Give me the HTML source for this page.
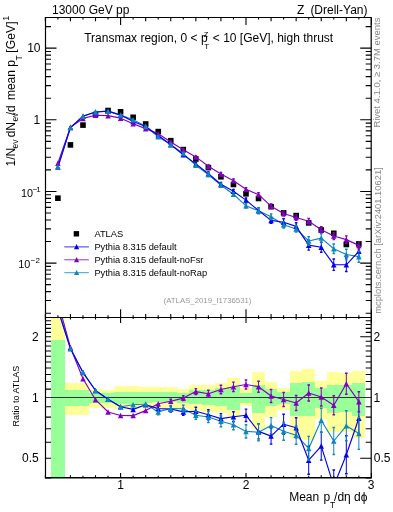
<!DOCTYPE html><html><head><meta charset="utf-8"><style>html,body{margin:0;padding:0;background:#fff;}svg{display:block;will-change:transform;}</style></head><body><svg width="393" height="512" viewBox="0 0 393 512" font-family="Liberation Sans, sans-serif"><rect width="393" height="512" fill="#fff"/><defs><clipPath id="cr"><rect x="45.50" y="317.50" width="325.70" height="160.00"/></clipPath><clipPath id="cu"><rect x="45.50" y="17.50" width="325.70" height="300.00"/></clipPath></defs><path d="M45.36,17.50L45.36,21.20M45.36,317.50L45.36,313.90M45.36,317.50L45.36,319.50M45.36,477.50L45.36,475.20M57.90,17.50L57.90,19.50M57.90,317.50L57.90,315.30M57.90,317.50L57.90,318.90M57.90,477.50L57.90,475.80M70.44,17.50L70.44,21.20M70.44,317.50L70.44,313.90M70.44,317.50L70.44,319.50M70.44,477.50L70.44,475.20M82.98,17.50L82.98,19.50M82.98,317.50L82.98,315.30M82.98,317.50L82.98,318.90M82.98,477.50L82.98,475.80M95.52,17.50L95.52,21.20M95.52,317.50L95.52,313.90M95.52,317.50L95.52,319.50M95.52,477.50L95.52,475.20M108.06,17.50L108.06,19.50M108.06,317.50L108.06,315.30M108.06,317.50L108.06,318.90M108.06,477.50L108.06,475.80M120.60,17.50L120.60,25.00M120.60,317.50L120.60,309.20M120.60,317.50L120.60,322.90M120.60,477.50L120.60,472.90M133.14,17.50L133.14,19.50M133.14,317.50L133.14,315.30M133.14,317.50L133.14,318.90M133.14,477.50L133.14,475.80M145.68,17.50L145.68,21.20M145.68,317.50L145.68,313.90M145.68,317.50L145.68,319.50M145.68,477.50L145.68,475.20M158.22,17.50L158.22,19.50M158.22,317.50L158.22,315.30M158.22,317.50L158.22,318.90M158.22,477.50L158.22,475.80M170.76,17.50L170.76,21.20M170.76,317.50L170.76,313.90M170.76,317.50L170.76,319.50M170.76,477.50L170.76,475.20M183.30,17.50L183.30,19.50M183.30,317.50L183.30,315.30M183.30,317.50L183.30,318.90M183.30,477.50L183.30,475.80M195.84,17.50L195.84,21.20M195.84,317.50L195.84,313.90M195.84,317.50L195.84,319.50M195.84,477.50L195.84,475.20M208.38,17.50L208.38,19.50M208.38,317.50L208.38,315.30M208.38,317.50L208.38,318.90M208.38,477.50L208.38,475.80M220.92,17.50L220.92,21.20M220.92,317.50L220.92,313.90M220.92,317.50L220.92,319.50M220.92,477.50L220.92,475.20M233.46,17.50L233.46,19.50M233.46,317.50L233.46,315.30M233.46,317.50L233.46,318.90M233.46,477.50L233.46,475.80M246.00,17.50L246.00,25.00M246.00,317.50L246.00,309.20M246.00,317.50L246.00,322.90M246.00,477.50L246.00,472.90M258.54,17.50L258.54,19.50M258.54,317.50L258.54,315.30M258.54,317.50L258.54,318.90M258.54,477.50L258.54,475.80M271.08,17.50L271.08,21.20M271.08,317.50L271.08,313.90M271.08,317.50L271.08,319.50M271.08,477.50L271.08,475.20M283.62,17.50L283.62,19.50M283.62,317.50L283.62,315.30M283.62,317.50L283.62,318.90M283.62,477.50L283.62,475.80M296.16,17.50L296.16,21.20M296.16,317.50L296.16,313.90M296.16,317.50L296.16,319.50M296.16,477.50L296.16,475.20M308.70,17.50L308.70,19.50M308.70,317.50L308.70,315.30M308.70,317.50L308.70,318.90M308.70,477.50L308.70,475.80M321.24,17.50L321.24,21.20M321.24,317.50L321.24,313.90M321.24,317.50L321.24,319.50M321.24,477.50L321.24,475.20M333.78,17.50L333.78,19.50M333.78,317.50L333.78,315.30M333.78,317.50L333.78,318.90M333.78,477.50L333.78,475.80M346.32,17.50L346.32,21.20M346.32,317.50L346.32,313.90M346.32,317.50L346.32,319.50M346.32,477.50L346.32,475.20M358.86,17.50L358.86,19.50M358.86,317.50L358.86,315.30M358.86,317.50L358.86,318.90M358.86,477.50L358.86,475.80M371.40,17.50L371.40,25.00M371.40,317.50L371.40,309.20M371.40,317.50L371.40,322.90M371.40,477.50L371.40,472.90M45.50,313.18L51.00,313.18M371.20,313.18L365.70,313.18M45.50,300.56L51.00,300.56M371.20,300.56L365.70,300.56M45.50,291.61L51.00,291.61M371.20,291.61L365.70,291.61M45.50,284.67L51.00,284.67M371.20,284.67L365.70,284.67M45.50,279.00L51.00,279.00M371.20,279.00L365.70,279.00M45.50,274.20L51.00,274.20M371.20,274.20L365.70,274.20M45.50,270.04L51.00,270.04M371.20,270.04L365.70,270.04M45.50,266.38L51.00,266.38M371.20,266.38L365.70,266.38M45.50,263.10L56.50,263.10M371.20,263.10L360.20,263.10M45.50,241.53L51.00,241.53M371.20,241.53L365.70,241.53M45.50,228.91L51.00,228.91M371.20,228.91L365.70,228.91M45.50,219.96L51.00,219.96M371.20,219.96L365.70,219.96M45.50,213.02L51.00,213.02M371.20,213.02L365.70,213.02M45.50,207.35L51.00,207.35M371.20,207.35L365.70,207.35M45.50,202.55L51.00,202.55M371.20,202.55L365.70,202.55M45.50,198.39L51.00,198.39M371.20,198.39L365.70,198.39M45.50,194.73L51.00,194.73M371.20,194.73L365.70,194.73M45.50,191.45L56.50,191.45M371.20,191.45L360.20,191.45M45.50,169.88L51.00,169.88M371.20,169.88L365.70,169.88M45.50,157.26L51.00,157.26M371.20,157.26L365.70,157.26M45.50,148.31L51.00,148.31M371.20,148.31L365.70,148.31M45.50,141.37L51.00,141.37M371.20,141.37L365.70,141.37M45.50,135.70L51.00,135.70M371.20,135.70L365.70,135.70M45.50,130.90L51.00,130.90M371.20,130.90L365.70,130.90M45.50,126.74L51.00,126.74M371.20,126.74L365.70,126.74M45.50,123.08L51.00,123.08M371.20,123.08L365.70,123.08M45.50,119.80L56.50,119.80M371.20,119.80L360.20,119.80M45.50,98.23L51.00,98.23M371.20,98.23L365.70,98.23M45.50,85.61L51.00,85.61M371.20,85.61L365.70,85.61M45.50,76.66L51.00,76.66M371.20,76.66L365.70,76.66M45.50,69.72L51.00,69.72M371.20,69.72L365.70,69.72M45.50,64.05L51.00,64.05M371.20,64.05L365.70,64.05M45.50,59.25L51.00,59.25M371.20,59.25L365.70,59.25M45.50,55.09L51.00,55.09M371.20,55.09L365.70,55.09M45.50,51.43L51.00,51.43M371.20,51.43L365.70,51.43M45.50,48.15L56.50,48.15M371.20,48.15L360.20,48.15M45.50,26.58L51.00,26.58M371.20,26.58L365.70,26.58M45.50,477.88L51.00,477.88M371.20,477.88L365.70,477.88M45.50,458.31L56.50,458.31M371.20,458.31L360.20,458.31M45.50,442.31L51.00,442.31M371.20,442.31L365.70,442.31M45.50,428.79L51.00,428.79M371.20,428.79L365.70,428.79M45.50,417.08L51.00,417.08M371.20,417.08L365.70,417.08M45.50,406.74L51.00,406.74M371.20,406.74L365.70,406.74M45.50,397.50L56.50,397.50M371.20,397.50L360.20,397.50M45.50,389.14L51.00,389.14M371.20,389.14L365.70,389.14M45.50,381.51L51.00,381.51M371.20,381.51L365.70,381.51M45.50,374.48L51.00,374.48M371.20,374.48L365.70,374.48M45.50,367.98L51.00,367.98M371.20,367.98L365.70,367.98M45.50,361.93L51.00,361.93M371.20,361.93L365.70,361.93M45.50,356.27L51.00,356.27M371.20,356.27L365.70,356.27M45.50,350.95L51.00,350.95M371.20,350.95L365.70,350.95M45.50,345.93L51.00,345.93M371.20,345.93L365.70,345.93M45.50,341.19L51.00,341.19M371.20,341.19L365.70,341.19M45.50,336.69L56.50,336.69M371.20,336.69L360.20,336.69M45.50,332.41L51.00,332.41M371.20,332.41L365.70,332.41M45.50,328.33L51.00,328.33M371.20,328.33L365.70,328.33M45.50,324.43L51.00,324.43M371.20,324.43L365.70,324.43M45.50,320.70L51.00,320.70M371.20,320.70L365.70,320.70" stroke="#000" stroke-width="1.1" fill="none"/><g clip-path="url(#cr)" shape-rendering="crispEdges"><rect x="51.00" y="317.00" width="13.80" height="160.50" fill="#ffff99"/><rect x="51.00" y="339.80" width="13.80" height="137.70" fill="#99ff99"/><rect x="64.80" y="383.30" width="11.81" height="31.20" fill="#ffff99"/><rect x="64.80" y="390.30" width="11.81" height="15.60" fill="#99ff99"/><rect x="76.61" y="383.30" width="12.54" height="31.20" fill="#ffff99"/><rect x="76.61" y="390.30" width="12.54" height="15.60" fill="#99ff99"/><rect x="89.15" y="389.10" width="12.54" height="18.70" fill="#ffff99"/><rect x="89.15" y="392.70" width="12.54" height="10.10" fill="#99ff99"/><rect x="101.69" y="389.50" width="12.54" height="18.30" fill="#ffff99"/><rect x="101.69" y="393.10" width="12.54" height="9.70" fill="#99ff99"/><rect x="114.23" y="386.00" width="12.54" height="23.10" fill="#ffff99"/><rect x="114.23" y="391.90" width="12.54" height="11.70" fill="#99ff99"/><rect x="126.77" y="386.00" width="12.54" height="23.10" fill="#ffff99"/><rect x="126.77" y="391.90" width="12.54" height="11.70" fill="#99ff99"/><rect x="139.31" y="387.20" width="12.54" height="21.10" fill="#ffff99"/><rect x="139.31" y="391.90" width="12.54" height="11.10" fill="#99ff99"/><rect x="151.85" y="387.20" width="12.54" height="20.30" fill="#ffff99"/><rect x="151.85" y="391.90" width="12.54" height="10.10" fill="#99ff99"/><rect x="164.39" y="387.20" width="12.54" height="20.30" fill="#ffff99"/><rect x="164.39" y="391.90" width="12.54" height="10.10" fill="#99ff99"/><rect x="176.93" y="388.80" width="12.54" height="19.50" fill="#ffff99"/><rect x="176.93" y="392.70" width="12.54" height="10.10" fill="#99ff99"/><rect x="189.47" y="385.30" width="12.54" height="26.10" fill="#ffff99"/><rect x="189.47" y="390.30" width="12.54" height="14.10" fill="#99ff99"/><rect x="202.01" y="385.00" width="12.54" height="26.90" fill="#ffff99"/><rect x="202.01" y="390.00" width="12.54" height="14.80" fill="#99ff99"/><rect x="214.55" y="383.40" width="12.54" height="29.30" fill="#ffff99"/><rect x="214.55" y="388.40" width="12.54" height="17.20" fill="#99ff99"/><rect x="227.09" y="378.30" width="12.54" height="38.30" fill="#ffff99"/><rect x="227.09" y="386.90" width="12.54" height="22.60" fill="#99ff99"/><rect x="239.63" y="388.10" width="12.54" height="18.30" fill="#ffff99"/><rect x="239.63" y="393.10" width="12.54" height="9.40" fill="#99ff99"/><rect x="252.17" y="372.00" width="12.54" height="57.00" fill="#ffff99"/><rect x="252.17" y="384.50" width="12.54" height="28.90" fill="#99ff99"/><rect x="264.71" y="382.20" width="12.54" height="34.40" fill="#ffff99"/><rect x="264.71" y="389.20" width="12.54" height="17.20" fill="#99ff99"/><rect x="277.25" y="387.70" width="12.54" height="21.80" fill="#ffff99"/><rect x="277.25" y="391.60" width="12.54" height="12.40" fill="#99ff99"/><rect x="289.79" y="370.50" width="12.54" height="67.80" fill="#ffff99"/><rect x="289.79" y="383.00" width="12.54" height="32.60" fill="#99ff99"/><rect x="302.33" y="368.90" width="12.54" height="70.90" fill="#ffff99"/><rect x="302.33" y="382.20" width="12.54" height="33.40" fill="#99ff99"/><rect x="314.87" y="380.60" width="12.54" height="38.20" fill="#ffff99"/><rect x="314.87" y="388.40" width="12.54" height="19.60" fill="#99ff99"/><rect x="327.41" y="372.00" width="12.54" height="60.00" fill="#ffff99"/><rect x="327.41" y="384.50" width="12.54" height="28.10" fill="#99ff99"/><rect x="339.95" y="372.80" width="12.54" height="59.20" fill="#ffff99"/><rect x="339.95" y="385.00" width="12.54" height="27.00" fill="#99ff99"/><rect x="352.49" y="370.50" width="12.54" height="67.00" fill="#ffff99"/><rect x="352.49" y="382.50" width="12.54" height="33.30" fill="#99ff99"/></g><line x1="45.5" y1="397.5" x2="371.2" y2="397.5" stroke="#333" stroke-width="1.2"/><g clip-path="url(#cr)"><polyline points="57.90,309.00 70.44,348.60 82.98,372.30 95.52,390.50 108.06,399.30 120.60,406.80 133.14,404.70 145.68,404.00 158.22,411.90 170.76,408.50 183.30,408.70 195.84,415.30 208.38,417.00 220.92,421.30 233.46,424.80 246.00,431.40 258.54,432.20 271.08,425.60 283.62,431.30 296.16,435.20 308.70,448.40 321.24,420.30 333.78,441.00 346.32,425.80 358.86,433.40" fill="none" stroke="#0c86bb" stroke-width="1.15" stroke-linejoin="round"/></g><g clip-path="url(#cr)"><polyline points="57.90,301.70 70.44,347.50 82.98,378.70 95.52,399.70 108.06,412.00 120.60,415.50 133.14,415.60 145.68,410.60 158.22,403.80 170.76,401.25 183.30,398.10 195.84,391.60 208.38,393.80 220.92,389.50 233.46,386.80 246.00,384.50 258.54,386.70 271.08,396.00 283.62,399.50 296.16,403.00 308.70,393.00 321.24,397.00 333.78,405.30 346.32,383.75 358.86,401.70" fill="none" stroke="#8200c0" stroke-width="1.15" stroke-linejoin="round"/></g><g clip-path="url(#cr)"><polyline points="57.90,309.50 70.44,348.60 82.98,372.60 95.52,390.50 108.06,399.30 120.60,406.80 133.14,409.40 145.68,404.70 158.22,408.60 170.76,409.00 183.30,411.90 195.84,411.30 208.38,414.70 220.92,418.60 233.46,416.70 246.00,415.30 258.54,431.40 271.08,436.10 283.62,424.20 296.16,427.80 308.70,460.20 321.24,446.10 333.78,486.00 346.32,454.70 358.86,418.30" fill="none" stroke="#0202ec" stroke-width="1.15" stroke-linejoin="round"/></g><g clip-path="url(#cr)"><path d="M55.15,312.25L60.65,312.25L57.90,306.75Z" fill="#0202ec"/><path d="M67.69,351.35L73.19,351.35L70.44,345.85Z" fill="#0202ec"/><path d="M80.23,375.35L85.73,375.35L82.98,369.85Z" fill="#0202ec"/><path d="M92.77,393.25L98.27,393.25L95.52,387.75Z" fill="#0202ec"/><path d="M105.31,402.05L110.81,402.05L108.06,396.55Z" fill="#0202ec"/><path d="M117.85,409.55L123.35,409.55L120.60,404.05Z" fill="#0202ec"/><path d="M130.39,412.15L135.89,412.15L133.14,406.65Z" fill="#0202ec"/><path d="M142.93,407.45L148.43,407.45L145.68,401.95Z" fill="#0202ec"/><path d="M158.22,406.10V411.10" stroke="#0202ec" stroke-width="1.0" fill="none"/><path d="M156.92,406.10H159.52M156.92,411.10H159.52" stroke="#0202ec" stroke-width="1.4" fill="none"/><path d="M155.47,411.35L160.97,411.35L158.22,405.85Z" fill="#0202ec"/><path d="M170.76,406.00V412.00" stroke="#0202ec" stroke-width="1.0" fill="none"/><path d="M169.46,406.00H172.06M169.46,412.00H172.06" stroke="#0202ec" stroke-width="1.4" fill="none"/><path d="M168.01,411.75L173.51,411.75L170.76,406.25Z" fill="#0202ec"/><path d="M183.30,408.40V415.40" stroke="#0202ec" stroke-width="1.0" fill="none"/><path d="M182.00,408.40H184.60M182.00,415.40H184.60" stroke="#0202ec" stroke-width="1.4" fill="none"/><path d="M180.55,414.65L186.05,414.65L183.30,409.15Z" fill="#0202ec"/><path d="M195.84,407.30V415.30" stroke="#0202ec" stroke-width="1.0" fill="none"/><path d="M194.54,407.30H197.14M194.54,415.30H197.14" stroke="#0202ec" stroke-width="1.4" fill="none"/><path d="M193.09,414.05L198.59,414.05L195.84,408.55Z" fill="#0202ec"/><path d="M208.38,409.70V419.70" stroke="#0202ec" stroke-width="1.0" fill="none"/><path d="M207.08,409.70H209.68M207.08,419.70H209.68" stroke="#0202ec" stroke-width="1.4" fill="none"/><path d="M205.63,417.45L211.13,417.45L208.38,411.95Z" fill="#0202ec"/><path d="M220.92,413.60V423.60" stroke="#0202ec" stroke-width="1.0" fill="none"/><path d="M219.62,413.60H222.22M219.62,423.60H222.22" stroke="#0202ec" stroke-width="1.4" fill="none"/><path d="M218.17,421.35L223.67,421.35L220.92,415.85Z" fill="#0202ec"/><path d="M233.46,411.70V421.70" stroke="#0202ec" stroke-width="1.0" fill="none"/><path d="M232.16,411.70H234.76M232.16,421.70H234.76" stroke="#0202ec" stroke-width="1.4" fill="none"/><path d="M230.71,419.45L236.21,419.45L233.46,413.95Z" fill="#0202ec"/><path d="M246.00,409.10V421.50" stroke="#0202ec" stroke-width="1.0" fill="none"/><path d="M244.70,409.10H247.30M244.70,421.50H247.30" stroke="#0202ec" stroke-width="1.4" fill="none"/><path d="M243.25,418.05L248.75,418.05L246.00,412.55Z" fill="#0202ec"/><path d="M258.54,423.90V438.90" stroke="#0202ec" stroke-width="1.0" fill="none"/><path d="M257.24,423.90H259.84M257.24,438.90H259.84" stroke="#0202ec" stroke-width="1.4" fill="none"/><path d="M255.79,434.15L261.29,434.15L258.54,428.65Z" fill="#0202ec"/><path d="M271.08,428.10V444.10" stroke="#0202ec" stroke-width="1.0" fill="none"/><path d="M269.78,428.10H272.38M269.78,444.10H272.38" stroke="#0202ec" stroke-width="1.4" fill="none"/><path d="M268.33,438.85L273.83,438.85L271.08,433.35Z" fill="#0202ec"/><path d="M283.62,414.20V434.20" stroke="#0202ec" stroke-width="1.0" fill="none"/><path d="M282.32,414.20H284.92M282.32,434.20H284.92" stroke="#0202ec" stroke-width="1.4" fill="none"/><path d="M280.87,426.95L286.37,426.95L283.62,421.45Z" fill="#0202ec"/><path d="M296.16,417.80V437.80" stroke="#0202ec" stroke-width="1.0" fill="none"/><path d="M294.86,417.80H297.46M294.86,437.80H297.46" stroke="#0202ec" stroke-width="1.4" fill="none"/><path d="M293.41,430.55L298.91,430.55L296.16,425.05Z" fill="#0202ec"/><path d="M308.70,446.20V474.20" stroke="#0202ec" stroke-width="1.0" fill="none"/><path d="M307.40,446.20H310.00M307.40,474.20H310.00" stroke="#0202ec" stroke-width="1.4" fill="none"/><path d="M305.95,462.95L311.45,462.95L308.70,457.45Z" fill="#0202ec"/><path d="M321.24,432.10V460.10" stroke="#0202ec" stroke-width="1.0" fill="none"/><path d="M319.94,432.10H322.54M319.94,460.10H322.54" stroke="#0202ec" stroke-width="1.4" fill="none"/><path d="M318.49,448.85L323.99,448.85L321.24,443.35Z" fill="#0202ec"/><path d="M333.78,470.00V502.00" stroke="#0202ec" stroke-width="1.0" fill="none"/><path d="M332.48,470.00H335.08M332.48,502.00H335.08" stroke="#0202ec" stroke-width="1.4" fill="none"/><path d="M331.03,488.75L336.53,488.75L333.78,483.25Z" fill="#0202ec"/><path d="M346.32,435.70V473.70" stroke="#0202ec" stroke-width="1.0" fill="none"/><path d="M345.02,435.70H347.62M345.02,473.70H347.62" stroke="#0202ec" stroke-width="1.4" fill="none"/><path d="M343.57,457.45L349.07,457.45L346.32,451.95Z" fill="#0202ec"/><path d="M358.86,402.30V434.30" stroke="#0202ec" stroke-width="1.0" fill="none"/><path d="M357.56,402.30H360.16M357.56,434.30H360.16" stroke="#0202ec" stroke-width="1.4" fill="none"/><path d="M356.11,421.05L361.61,421.05L358.86,415.55Z" fill="#0202ec"/></g><g clip-path="url(#cr)"><path d="M55.15,304.45L60.65,304.45L57.90,298.95Z" fill="#8200c0"/><path d="M67.69,350.25L73.19,350.25L70.44,344.75Z" fill="#8200c0"/><path d="M80.23,381.45L85.73,381.45L82.98,375.95Z" fill="#8200c0"/><path d="M92.77,402.45L98.27,402.45L95.52,396.95Z" fill="#8200c0"/><path d="M105.31,414.75L110.81,414.75L108.06,409.25Z" fill="#8200c0"/><path d="M117.85,418.25L123.35,418.25L120.60,412.75Z" fill="#8200c0"/><path d="M130.39,418.35L135.89,418.35L133.14,412.85Z" fill="#8200c0"/><path d="M142.93,413.35L148.43,413.35L145.68,407.85Z" fill="#8200c0"/><path d="M155.47,406.55L160.97,406.55L158.22,401.05Z" fill="#8200c0"/><path d="M170.76,399.25V403.25" stroke="#8200c0" stroke-width="1.0" fill="none"/><path d="M169.46,399.25H172.06M169.46,403.25H172.06" stroke="#8200c0" stroke-width="1.4" fill="none"/><path d="M168.01,404.00L173.51,404.00L170.76,398.50Z" fill="#8200c0"/><path d="M183.30,395.60V400.60" stroke="#8200c0" stroke-width="1.0" fill="none"/><path d="M182.00,395.60H184.60M182.00,400.60H184.60" stroke="#8200c0" stroke-width="1.4" fill="none"/><path d="M180.55,400.85L186.05,400.85L183.30,395.35Z" fill="#8200c0"/><path d="M195.84,388.60V394.60" stroke="#8200c0" stroke-width="1.0" fill="none"/><path d="M194.54,388.60H197.14M194.54,394.60H197.14" stroke="#8200c0" stroke-width="1.4" fill="none"/><path d="M193.09,394.35L198.59,394.35L195.84,388.85Z" fill="#8200c0"/><path d="M208.38,390.30V397.30" stroke="#8200c0" stroke-width="1.0" fill="none"/><path d="M207.08,390.30H209.68M207.08,397.30H209.68" stroke="#8200c0" stroke-width="1.4" fill="none"/><path d="M205.63,396.55L211.13,396.55L208.38,391.05Z" fill="#8200c0"/><path d="M220.92,385.20V393.80" stroke="#8200c0" stroke-width="1.0" fill="none"/><path d="M219.62,385.20H222.22M219.62,393.80H222.22" stroke="#8200c0" stroke-width="1.4" fill="none"/><path d="M218.17,392.25L223.67,392.25L220.92,386.75Z" fill="#8200c0"/><path d="M233.46,382.10V391.50" stroke="#8200c0" stroke-width="1.0" fill="none"/><path d="M232.16,382.10H234.76M232.16,391.50H234.76" stroke="#8200c0" stroke-width="1.4" fill="none"/><path d="M230.71,389.55L236.21,389.55L233.46,384.05Z" fill="#8200c0"/><path d="M246.00,380.00V389.00" stroke="#8200c0" stroke-width="1.0" fill="none"/><path d="M244.70,380.00H247.30M244.70,389.00H247.30" stroke="#8200c0" stroke-width="1.4" fill="none"/><path d="M243.25,387.25L248.75,387.25L246.00,381.75Z" fill="#8200c0"/><path d="M258.54,381.20V392.20" stroke="#8200c0" stroke-width="1.0" fill="none"/><path d="M257.24,381.20H259.84M257.24,392.20H259.84" stroke="#8200c0" stroke-width="1.4" fill="none"/><path d="M255.79,389.45L261.29,389.45L258.54,383.95Z" fill="#8200c0"/><path d="M271.08,389.50V402.50" stroke="#8200c0" stroke-width="1.0" fill="none"/><path d="M269.78,389.50H272.38M269.78,402.50H272.38" stroke="#8200c0" stroke-width="1.4" fill="none"/><path d="M268.33,398.75L273.83,398.75L271.08,393.25Z" fill="#8200c0"/><path d="M283.62,392.50V406.50" stroke="#8200c0" stroke-width="1.0" fill="none"/><path d="M282.32,392.50H284.92M282.32,406.50H284.92" stroke="#8200c0" stroke-width="1.4" fill="none"/><path d="M280.87,402.25L286.37,402.25L283.62,396.75Z" fill="#8200c0"/><path d="M296.16,395.50V410.50" stroke="#8200c0" stroke-width="1.0" fill="none"/><path d="M294.86,395.50H297.46M294.86,410.50H297.46" stroke="#8200c0" stroke-width="1.4" fill="none"/><path d="M293.41,405.75L298.91,405.75L296.16,400.25Z" fill="#8200c0"/><path d="M308.70,385.00V401.00" stroke="#8200c0" stroke-width="1.0" fill="none"/><path d="M307.40,385.00H310.00M307.40,401.00H310.00" stroke="#8200c0" stroke-width="1.4" fill="none"/><path d="M305.95,395.75L311.45,395.75L308.70,390.25Z" fill="#8200c0"/><path d="M321.24,388.00V406.00" stroke="#8200c0" stroke-width="1.0" fill="none"/><path d="M319.94,388.00H322.54M319.94,406.00H322.54" stroke="#8200c0" stroke-width="1.4" fill="none"/><path d="M318.49,399.75L323.99,399.75L321.24,394.25Z" fill="#8200c0"/><path d="M333.78,395.80V414.80" stroke="#8200c0" stroke-width="1.0" fill="none"/><path d="M332.48,395.80H335.08M332.48,414.80H335.08" stroke="#8200c0" stroke-width="1.4" fill="none"/><path d="M331.03,408.05L336.53,408.05L333.78,402.55Z" fill="#8200c0"/><path d="M346.32,373.25V394.25" stroke="#8200c0" stroke-width="1.0" fill="none"/><path d="M345.02,373.25H347.62M345.02,394.25H347.62" stroke="#8200c0" stroke-width="1.4" fill="none"/><path d="M343.57,386.50L349.07,386.50L346.32,381.00Z" fill="#8200c0"/><path d="M358.86,391.70V411.70" stroke="#8200c0" stroke-width="1.0" fill="none"/><path d="M357.56,391.70H360.16M357.56,411.70H360.16" stroke="#8200c0" stroke-width="1.4" fill="none"/><path d="M356.11,404.45L361.61,404.45L358.86,398.95Z" fill="#8200c0"/></g><g clip-path="url(#cr)"><path d="M55.15,311.75L60.65,311.75L57.90,306.25Z" fill="#0c86bb"/><path d="M67.69,351.35L73.19,351.35L70.44,345.85Z" fill="#0c86bb"/><path d="M80.23,375.05L85.73,375.05L82.98,369.55Z" fill="#0c86bb"/><path d="M92.77,393.25L98.27,393.25L95.52,387.75Z" fill="#0c86bb"/><path d="M105.31,402.05L110.81,402.05L108.06,396.55Z" fill="#0c86bb"/><path d="M117.85,409.55L123.35,409.55L120.60,404.05Z" fill="#0c86bb"/><path d="M130.39,407.45L135.89,407.45L133.14,401.95Z" fill="#0c86bb"/><path d="M142.93,406.75L148.43,406.75L145.68,401.25Z" fill="#0c86bb"/><path d="M158.22,408.90V414.90" stroke="#0c86bb" stroke-width="1.0" fill="none"/><path d="M156.92,408.90H159.52M156.92,414.90H159.52" stroke="#0c86bb" stroke-width="1.4" fill="none"/><path d="M155.47,414.65L160.97,414.65L158.22,409.15Z" fill="#0c86bb"/><path d="M170.76,405.50V411.50" stroke="#0c86bb" stroke-width="1.0" fill="none"/><path d="M169.46,405.50H172.06M169.46,411.50H172.06" stroke="#0c86bb" stroke-width="1.4" fill="none"/><path d="M168.01,411.25L173.51,411.25L170.76,405.75Z" fill="#0c86bb"/><path d="M183.30,405.20V412.20" stroke="#0c86bb" stroke-width="1.0" fill="none"/><path d="M182.00,405.20H184.60M182.00,412.20H184.60" stroke="#0c86bb" stroke-width="1.4" fill="none"/><path d="M180.55,411.45L186.05,411.45L183.30,405.95Z" fill="#0c86bb"/><path d="M195.84,411.30V419.30" stroke="#0c86bb" stroke-width="1.0" fill="none"/><path d="M194.54,411.30H197.14M194.54,419.30H197.14" stroke="#0c86bb" stroke-width="1.4" fill="none"/><path d="M193.09,418.05L198.59,418.05L195.84,412.55Z" fill="#0c86bb"/><path d="M208.38,411.50V422.50" stroke="#0c86bb" stroke-width="1.0" fill="none"/><path d="M207.08,411.50H209.68M207.08,422.50H209.68" stroke="#0c86bb" stroke-width="1.4" fill="none"/><path d="M205.63,419.75L211.13,419.75L208.38,414.25Z" fill="#0c86bb"/><path d="M220.92,415.80V426.80" stroke="#0c86bb" stroke-width="1.0" fill="none"/><path d="M219.62,415.80H222.22M219.62,426.80H222.22" stroke="#0c86bb" stroke-width="1.4" fill="none"/><path d="M218.17,424.05L223.67,424.05L220.92,418.55Z" fill="#0c86bb"/><path d="M233.46,419.80V429.80" stroke="#0c86bb" stroke-width="1.0" fill="none"/><path d="M232.16,419.80H234.76M232.16,429.80H234.76" stroke="#0c86bb" stroke-width="1.4" fill="none"/><path d="M230.71,427.55L236.21,427.55L233.46,422.05Z" fill="#0c86bb"/><path d="M246.00,424.80V438.00" stroke="#0c86bb" stroke-width="1.0" fill="none"/><path d="M244.70,424.80H247.30M244.70,438.00H247.30" stroke="#0c86bb" stroke-width="1.4" fill="none"/><path d="M243.25,434.15L248.75,434.15L246.00,428.65Z" fill="#0c86bb"/><path d="M258.54,423.70V440.70" stroke="#0c86bb" stroke-width="1.0" fill="none"/><path d="M257.24,423.70H259.84M257.24,440.70H259.84" stroke="#0c86bb" stroke-width="1.4" fill="none"/><path d="M255.79,434.95L261.29,434.95L258.54,429.45Z" fill="#0c86bb"/><path d="M271.08,417.60V433.60" stroke="#0c86bb" stroke-width="1.0" fill="none"/><path d="M269.78,417.60H272.38M269.78,433.60H272.38" stroke="#0c86bb" stroke-width="1.4" fill="none"/><path d="M268.33,428.35L273.83,428.35L271.08,422.85Z" fill="#0c86bb"/><path d="M283.62,422.30V440.30" stroke="#0c86bb" stroke-width="1.0" fill="none"/><path d="M282.32,422.30H284.92M282.32,440.30H284.92" stroke="#0c86bb" stroke-width="1.4" fill="none"/><path d="M280.87,434.05L286.37,434.05L283.62,428.55Z" fill="#0c86bb"/><path d="M296.16,426.20V444.20" stroke="#0c86bb" stroke-width="1.0" fill="none"/><path d="M294.86,426.20H297.46M294.86,444.20H297.46" stroke="#0c86bb" stroke-width="1.4" fill="none"/><path d="M293.41,437.95L298.91,437.95L296.16,432.45Z" fill="#0c86bb"/><path d="M308.70,436.40V460.40" stroke="#0c86bb" stroke-width="1.0" fill="none"/><path d="M307.40,436.40H310.00M307.40,460.40H310.00" stroke="#0c86bb" stroke-width="1.4" fill="none"/><path d="M305.95,451.15L311.45,451.15L308.70,445.65Z" fill="#0c86bb"/><path d="M321.24,408.30V432.30" stroke="#0c86bb" stroke-width="1.0" fill="none"/><path d="M319.94,408.30H322.54M319.94,432.30H322.54" stroke="#0c86bb" stroke-width="1.4" fill="none"/><path d="M318.49,423.05L323.99,423.05L321.24,417.55Z" fill="#0c86bb"/><path d="M333.78,427.50V454.50" stroke="#0c86bb" stroke-width="1.0" fill="none"/><path d="M332.48,427.50H335.08M332.48,454.50H335.08" stroke="#0c86bb" stroke-width="1.4" fill="none"/><path d="M331.03,443.75L336.53,443.75L333.78,438.25Z" fill="#0c86bb"/><path d="M346.32,410.80V440.80" stroke="#0c86bb" stroke-width="1.0" fill="none"/><path d="M345.02,410.80H347.62M345.02,440.80H347.62" stroke="#0c86bb" stroke-width="1.4" fill="none"/><path d="M343.57,428.55L349.07,428.55L346.32,423.05Z" fill="#0c86bb"/><path d="M358.86,417.40V449.40" stroke="#0c86bb" stroke-width="1.0" fill="none"/><path d="M357.56,417.40H360.16M357.56,449.40H360.16" stroke="#0c86bb" stroke-width="1.4" fill="none"/><path d="M356.11,436.15L361.61,436.15L358.86,430.65Z" fill="#0c86bb"/></g><rect x="55.10" y="195.40" width="5.6" height="5.6" fill="#000"/><rect x="67.64" y="142.10" width="5.6" height="5.6" fill="#000"/><rect x="80.18" y="122.30" width="5.6" height="5.6" fill="#000"/><rect x="92.72" y="111.70" width="5.6" height="5.6" fill="#000"/><rect x="105.26" y="107.70" width="5.6" height="5.6" fill="#000"/><rect x="117.80" y="109.00" width="5.6" height="5.6" fill="#000"/><rect x="130.34" y="114.50" width="5.6" height="5.6" fill="#000"/><rect x="142.88" y="121.20" width="5.6" height="5.6" fill="#000"/><rect x="155.42" y="128.80" width="5.6" height="5.6" fill="#000"/><rect x="167.96" y="137.90" width="5.6" height="5.6" fill="#000"/><rect x="180.50" y="146.80" width="5.6" height="5.6" fill="#000"/><rect x="193.04" y="156.20" width="5.6" height="5.6" fill="#000"/><rect x="205.58" y="164.80" width="5.6" height="5.6" fill="#000"/><rect x="218.12" y="174.00" width="5.6" height="5.6" fill="#000"/><rect x="230.66" y="181.70" width="5.6" height="5.6" fill="#000"/><rect x="243.20" y="191.00" width="5.6" height="5.6" fill="#000"/><rect x="255.74" y="195.70" width="5.6" height="5.6" fill="#000"/><rect x="268.28" y="203.90" width="5.6" height="5.6" fill="#000"/><rect x="280.82" y="210.00" width="5.6" height="5.6" fill="#000"/><rect x="293.36" y="212.80" width="5.6" height="5.6" fill="#000"/><rect x="305.90" y="220.10" width="5.6" height="5.6" fill="#000"/><rect x="318.44" y="227.20" width="5.6" height="5.6" fill="#000"/><rect x="330.98" y="230.50" width="5.6" height="5.6" fill="#000"/><rect x="343.52" y="241.70" width="5.6" height="5.6" fill="#000"/><rect x="356.06" y="241.10" width="5.6" height="5.6" fill="#000"/><g clip-path="url(#cu)"><polyline points="57.90,166.81 70.44,127.56 82.98,116.16 95.52,112.02 108.06,111.14 120.60,115.10 133.14,119.85 145.68,126.31 158.22,136.71 170.76,144.60 183.30,153.57 195.84,165.31 208.38,174.52 220.92,185.24 233.46,194.18 246.00,205.82 258.54,210.81 271.08,216.67 283.62,224.79 296.16,228.97 308.70,240.95 321.24,238.09 333.78,248.73 346.32,254.54 358.86,256.63" fill="none" stroke="#0c86bb" stroke-width="1.15" stroke-linejoin="round"/></g><g clip-path="url(#cu)"><polyline points="57.90,163.20 70.44,127.16 82.98,118.43 95.52,115.28 108.06,115.64 120.60,118.18 133.14,123.72 145.68,128.65 158.22,133.83 170.76,142.03 183.30,149.81 195.84,156.91 208.38,166.29 220.92,173.96 233.46,180.70 246.00,189.19 258.54,194.67 271.08,206.17 283.62,213.51 296.16,217.55 308.70,221.30 321.24,229.82 333.78,236.07 346.32,239.62 358.86,245.39" fill="none" stroke="#8200c0" stroke-width="1.15" stroke-linejoin="round"/></g><g clip-path="url(#cu)"><polyline points="57.90,166.99 70.44,127.56 82.98,116.27 95.52,112.02 108.06,111.14 120.60,115.10 133.14,121.52 145.68,126.55 158.22,135.54 170.76,144.78 183.30,154.71 195.84,163.89 208.38,173.70 220.92,184.28 233.46,191.31 246.00,200.11 258.54,210.52 271.08,220.39 283.62,222.27 296.16,226.35 308.70,245.14 321.24,247.24 333.78,264.69 346.32,264.79 358.86,251.28" fill="none" stroke="#0202ec" stroke-width="1.15" stroke-linejoin="round"/></g><g clip-path="url(#cu)"><path d="M55.15,169.74L60.65,169.74L57.90,164.24Z" fill="#0202ec"/><path d="M67.69,130.31L73.19,130.31L70.44,124.81Z" fill="#0202ec"/><path d="M80.23,119.02L85.73,119.02L82.98,113.52Z" fill="#0202ec"/><path d="M92.77,114.77L98.27,114.77L95.52,109.27Z" fill="#0202ec"/><path d="M105.31,113.89L110.81,113.89L108.06,108.39Z" fill="#0202ec"/><path d="M117.85,117.85L123.35,117.85L120.60,112.35Z" fill="#0202ec"/><path d="M130.39,124.27L135.89,124.27L133.14,118.77Z" fill="#0202ec"/><path d="M142.93,129.30L148.43,129.30L145.68,123.80Z" fill="#0202ec"/><path d="M158.22,134.65V136.42" stroke="#0202ec" stroke-width="1.0" fill="none"/><path d="M156.92,134.65H159.52M156.92,136.42H159.52" stroke="#0202ec" stroke-width="1.4" fill="none"/><path d="M155.47,138.29L160.97,138.29L158.22,132.79Z" fill="#0202ec"/><path d="M170.76,143.71V145.84" stroke="#0202ec" stroke-width="1.0" fill="none"/><path d="M169.46,143.71H172.06M169.46,145.84H172.06" stroke="#0202ec" stroke-width="1.4" fill="none"/><path d="M168.01,147.53L173.51,147.53L170.76,142.03Z" fill="#0202ec"/><path d="M183.30,153.47V155.95" stroke="#0202ec" stroke-width="1.0" fill="none"/><path d="M182.00,153.47H184.60M182.00,155.95H184.60" stroke="#0202ec" stroke-width="1.4" fill="none"/><path d="M180.55,157.46L186.05,157.46L183.30,151.96Z" fill="#0202ec"/><path d="M195.84,162.48V165.31" stroke="#0202ec" stroke-width="1.0" fill="none"/><path d="M194.54,162.48H197.14M194.54,165.31H197.14" stroke="#0202ec" stroke-width="1.4" fill="none"/><path d="M193.09,166.64L198.59,166.64L195.84,161.14Z" fill="#0202ec"/><path d="M208.38,171.93V175.47" stroke="#0202ec" stroke-width="1.0" fill="none"/><path d="M207.08,171.93H209.68M207.08,175.47H209.68" stroke="#0202ec" stroke-width="1.4" fill="none"/><path d="M205.63,176.45L211.13,176.45L208.38,170.95Z" fill="#0202ec"/><path d="M220.92,182.51V186.06" stroke="#0202ec" stroke-width="1.0" fill="none"/><path d="M219.62,182.51H222.22M219.62,186.06H222.22" stroke="#0202ec" stroke-width="1.4" fill="none"/><path d="M218.17,187.03L223.67,187.03L220.92,181.53Z" fill="#0202ec"/><path d="M233.46,189.54V193.08" stroke="#0202ec" stroke-width="1.0" fill="none"/><path d="M232.16,189.54H234.76M232.16,193.08H234.76" stroke="#0202ec" stroke-width="1.4" fill="none"/><path d="M230.71,194.06L236.21,194.06L233.46,188.56Z" fill="#0202ec"/><path d="M246.00,197.91V202.31" stroke="#0202ec" stroke-width="1.0" fill="none"/><path d="M244.70,197.91H247.30M244.70,202.31H247.30" stroke="#0202ec" stroke-width="1.4" fill="none"/><path d="M243.25,202.86L248.75,202.86L246.00,197.36Z" fill="#0202ec"/><path d="M258.54,207.86V213.18" stroke="#0202ec" stroke-width="1.0" fill="none"/><path d="M257.24,207.86H259.84M257.24,213.18H259.84" stroke="#0202ec" stroke-width="1.4" fill="none"/><path d="M255.79,213.27L261.29,213.27L258.54,207.77Z" fill="#0202ec"/><path d="M271.08,217.55V223.23" stroke="#0202ec" stroke-width="1.0" fill="none"/><path d="M269.78,217.55H272.38M269.78,223.23H272.38" stroke="#0202ec" stroke-width="1.4" fill="none"/><path d="M268.33,223.14L273.83,223.14L271.08,217.64Z" fill="#0202ec"/><path d="M283.62,218.72V225.82" stroke="#0202ec" stroke-width="1.0" fill="none"/><path d="M282.32,218.72H284.92M282.32,225.82H284.92" stroke="#0202ec" stroke-width="1.4" fill="none"/><path d="M280.87,225.02L286.37,225.02L283.62,219.52Z" fill="#0202ec"/><path d="M296.16,222.80V229.89" stroke="#0202ec" stroke-width="1.0" fill="none"/><path d="M294.86,222.80H297.46M294.86,229.89H297.46" stroke="#0202ec" stroke-width="1.4" fill="none"/><path d="M293.41,229.10L298.91,229.10L296.16,223.60Z" fill="#0202ec"/><path d="M308.70,240.17V250.11" stroke="#0202ec" stroke-width="1.0" fill="none"/><path d="M307.40,240.17H310.00M307.40,250.11H310.00" stroke="#0202ec" stroke-width="1.4" fill="none"/><path d="M305.95,247.89L311.45,247.89L308.70,242.39Z" fill="#0202ec"/><path d="M321.24,242.27V252.20" stroke="#0202ec" stroke-width="1.0" fill="none"/><path d="M319.94,242.27H322.54M319.94,252.20H322.54" stroke="#0202ec" stroke-width="1.4" fill="none"/><path d="M318.49,249.99L323.99,249.99L321.24,244.49Z" fill="#0202ec"/><path d="M333.78,259.02V270.37" stroke="#0202ec" stroke-width="1.0" fill="none"/><path d="M332.48,259.02H335.08M332.48,270.37H335.08" stroke="#0202ec" stroke-width="1.4" fill="none"/><path d="M331.03,267.44L336.53,267.44L333.78,261.94Z" fill="#0202ec"/><path d="M346.32,258.05V271.53" stroke="#0202ec" stroke-width="1.0" fill="none"/><path d="M345.02,258.05H347.62M345.02,271.53H347.62" stroke="#0202ec" stroke-width="1.4" fill="none"/><path d="M343.57,267.54L349.07,267.54L346.32,262.04Z" fill="#0202ec"/><path d="M358.86,245.60V256.95" stroke="#0202ec" stroke-width="1.0" fill="none"/><path d="M357.56,245.60H360.16M357.56,256.95H360.16" stroke="#0202ec" stroke-width="1.4" fill="none"/><path d="M356.11,254.03L361.61,254.03L358.86,248.53Z" fill="#0202ec"/></g><g clip-path="url(#cu)"><path d="M55.15,165.95L60.65,165.95L57.90,160.45Z" fill="#8200c0"/><path d="M67.69,129.91L73.19,129.91L70.44,124.41Z" fill="#8200c0"/><path d="M80.23,121.18L85.73,121.18L82.98,115.68Z" fill="#8200c0"/><path d="M92.77,118.03L98.27,118.03L95.52,112.53Z" fill="#8200c0"/><path d="M105.31,118.39L110.81,118.39L108.06,112.89Z" fill="#8200c0"/><path d="M117.85,120.93L123.35,120.93L120.60,115.43Z" fill="#8200c0"/><path d="M130.39,126.47L135.89,126.47L133.14,120.97Z" fill="#8200c0"/><path d="M142.93,131.40L148.43,131.40L145.68,125.90Z" fill="#8200c0"/><path d="M155.47,136.58L160.97,136.58L158.22,131.08Z" fill="#8200c0"/><path d="M170.76,141.32V142.74" stroke="#8200c0" stroke-width="1.0" fill="none"/><path d="M169.46,141.32H172.06M169.46,142.74H172.06" stroke="#8200c0" stroke-width="1.4" fill="none"/><path d="M168.01,144.78L173.51,144.78L170.76,139.28Z" fill="#8200c0"/><path d="M183.30,148.93V150.70" stroke="#8200c0" stroke-width="1.0" fill="none"/><path d="M182.00,148.93H184.60M182.00,150.70H184.60" stroke="#8200c0" stroke-width="1.4" fill="none"/><path d="M180.55,152.56L186.05,152.56L183.30,147.06Z" fill="#8200c0"/><path d="M195.84,155.84V157.97" stroke="#8200c0" stroke-width="1.0" fill="none"/><path d="M194.54,155.84H197.14M194.54,157.97H197.14" stroke="#8200c0" stroke-width="1.4" fill="none"/><path d="M193.09,159.66L198.59,159.66L195.84,154.16Z" fill="#8200c0"/><path d="M208.38,165.05V167.53" stroke="#8200c0" stroke-width="1.0" fill="none"/><path d="M207.08,165.05H209.68M207.08,167.53H209.68" stroke="#8200c0" stroke-width="1.4" fill="none"/><path d="M205.63,169.04L211.13,169.04L208.38,163.54Z" fill="#8200c0"/><path d="M220.92,172.44V175.49" stroke="#8200c0" stroke-width="1.0" fill="none"/><path d="M219.62,172.44H222.22M219.62,175.49H222.22" stroke="#8200c0" stroke-width="1.4" fill="none"/><path d="M218.17,176.71L223.67,176.71L220.92,171.21Z" fill="#8200c0"/><path d="M233.46,179.04V182.37" stroke="#8200c0" stroke-width="1.0" fill="none"/><path d="M232.16,179.04H234.76M232.16,182.37H234.76" stroke="#8200c0" stroke-width="1.4" fill="none"/><path d="M230.71,183.45L236.21,183.45L233.46,177.95Z" fill="#8200c0"/><path d="M246.00,187.59V190.79" stroke="#8200c0" stroke-width="1.0" fill="none"/><path d="M244.70,187.59H247.30M244.70,190.79H247.30" stroke="#8200c0" stroke-width="1.4" fill="none"/><path d="M243.25,191.94L248.75,191.94L246.00,186.44Z" fill="#8200c0"/><path d="M258.54,192.72V196.62" stroke="#8200c0" stroke-width="1.0" fill="none"/><path d="M257.24,192.72H259.84M257.24,196.62H259.84" stroke="#8200c0" stroke-width="1.4" fill="none"/><path d="M255.79,197.42L261.29,197.42L258.54,191.92Z" fill="#8200c0"/><path d="M271.08,203.86V208.47" stroke="#8200c0" stroke-width="1.0" fill="none"/><path d="M269.78,203.86H272.38M269.78,208.47H272.38" stroke="#8200c0" stroke-width="1.4" fill="none"/><path d="M268.33,208.92L273.83,208.92L271.08,203.42Z" fill="#8200c0"/><path d="M283.62,211.03V215.99" stroke="#8200c0" stroke-width="1.0" fill="none"/><path d="M282.32,211.03H284.92M282.32,215.99H284.92" stroke="#8200c0" stroke-width="1.4" fill="none"/><path d="M280.87,216.26L286.37,216.26L283.62,210.76Z" fill="#8200c0"/><path d="M296.16,214.89V220.21" stroke="#8200c0" stroke-width="1.0" fill="none"/><path d="M294.86,214.89H297.46M294.86,220.21H297.46" stroke="#8200c0" stroke-width="1.4" fill="none"/><path d="M293.41,220.30L298.91,220.30L296.16,214.80Z" fill="#8200c0"/><path d="M308.70,218.47V224.14" stroke="#8200c0" stroke-width="1.0" fill="none"/><path d="M307.40,218.47H310.00M307.40,224.14H310.00" stroke="#8200c0" stroke-width="1.4" fill="none"/><path d="M305.95,224.05L311.45,224.05L308.70,218.55Z" fill="#8200c0"/><path d="M321.24,226.63V233.01" stroke="#8200c0" stroke-width="1.0" fill="none"/><path d="M319.94,226.63H322.54M319.94,233.01H322.54" stroke="#8200c0" stroke-width="1.4" fill="none"/><path d="M318.49,232.57L323.99,232.57L321.24,227.07Z" fill="#8200c0"/><path d="M333.78,232.70V239.44" stroke="#8200c0" stroke-width="1.0" fill="none"/><path d="M332.48,232.70H335.08M332.48,239.44H335.08" stroke="#8200c0" stroke-width="1.4" fill="none"/><path d="M331.03,238.82L336.53,238.82L333.78,233.32Z" fill="#8200c0"/><path d="M346.32,235.90V243.35" stroke="#8200c0" stroke-width="1.0" fill="none"/><path d="M345.02,235.90H347.62M345.02,243.35H347.62" stroke="#8200c0" stroke-width="1.4" fill="none"/><path d="M343.57,242.37L349.07,242.37L346.32,236.87Z" fill="#8200c0"/><path d="M358.86,241.84V248.94" stroke="#8200c0" stroke-width="1.0" fill="none"/><path d="M357.56,241.84H360.16M357.56,248.94H360.16" stroke="#8200c0" stroke-width="1.4" fill="none"/><path d="M356.11,248.14L361.61,248.14L358.86,242.64Z" fill="#8200c0"/></g><g clip-path="url(#cu)"><path d="M55.15,169.56L60.65,169.56L57.90,164.06Z" fill="#0c86bb"/><path d="M67.69,130.31L73.19,130.31L70.44,124.81Z" fill="#0c86bb"/><path d="M80.23,118.91L85.73,118.91L82.98,113.41Z" fill="#0c86bb"/><path d="M92.77,114.77L98.27,114.77L95.52,109.27Z" fill="#0c86bb"/><path d="M105.31,113.89L110.81,113.89L108.06,108.39Z" fill="#0c86bb"/><path d="M117.85,117.85L123.35,117.85L120.60,112.35Z" fill="#0c86bb"/><path d="M130.39,122.60L135.89,122.60L133.14,117.10Z" fill="#0c86bb"/><path d="M142.93,129.06L148.43,129.06L145.68,123.56Z" fill="#0c86bb"/><path d="M158.22,135.64V137.77" stroke="#0c86bb" stroke-width="1.0" fill="none"/><path d="M156.92,135.64H159.52M156.92,137.77H159.52" stroke="#0c86bb" stroke-width="1.4" fill="none"/><path d="M155.47,139.46L160.97,139.46L158.22,133.96Z" fill="#0c86bb"/><path d="M170.76,143.54V145.67" stroke="#0c86bb" stroke-width="1.0" fill="none"/><path d="M169.46,143.54H172.06M169.46,145.67H172.06" stroke="#0c86bb" stroke-width="1.4" fill="none"/><path d="M168.01,147.35L173.51,147.35L170.76,141.85Z" fill="#0c86bb"/><path d="M183.30,152.33V154.81" stroke="#0c86bb" stroke-width="1.0" fill="none"/><path d="M182.00,152.33H184.60M182.00,154.81H184.60" stroke="#0c86bb" stroke-width="1.4" fill="none"/><path d="M180.55,156.32L186.05,156.32L183.30,150.82Z" fill="#0c86bb"/><path d="M195.84,163.89V166.73" stroke="#0c86bb" stroke-width="1.0" fill="none"/><path d="M194.54,163.89H197.14M194.54,166.73H197.14" stroke="#0c86bb" stroke-width="1.4" fill="none"/><path d="M193.09,168.06L198.59,168.06L195.84,162.56Z" fill="#0c86bb"/><path d="M208.38,172.57V176.47" stroke="#0c86bb" stroke-width="1.0" fill="none"/><path d="M207.08,172.57H209.68M207.08,176.47H209.68" stroke="#0c86bb" stroke-width="1.4" fill="none"/><path d="M205.63,177.27L211.13,177.27L208.38,171.77Z" fill="#0c86bb"/><path d="M220.92,183.29V187.19" stroke="#0c86bb" stroke-width="1.0" fill="none"/><path d="M219.62,183.29H222.22M219.62,187.19H222.22" stroke="#0c86bb" stroke-width="1.4" fill="none"/><path d="M218.17,187.99L223.67,187.99L220.92,182.49Z" fill="#0c86bb"/><path d="M233.46,192.41V195.96" stroke="#0c86bb" stroke-width="1.0" fill="none"/><path d="M232.16,192.41H234.76M232.16,195.96H234.76" stroke="#0c86bb" stroke-width="1.4" fill="none"/><path d="M230.71,196.93L236.21,196.93L233.46,191.43Z" fill="#0c86bb"/><path d="M246.00,203.48V208.17" stroke="#0c86bb" stroke-width="1.0" fill="none"/><path d="M244.70,203.48H247.30M244.70,208.17H247.30" stroke="#0c86bb" stroke-width="1.4" fill="none"/><path d="M243.25,208.57L248.75,208.57L246.00,203.07Z" fill="#0c86bb"/><path d="M258.54,207.79V213.82" stroke="#0c86bb" stroke-width="1.0" fill="none"/><path d="M257.24,207.79H259.84M257.24,213.82H259.84" stroke="#0c86bb" stroke-width="1.4" fill="none"/><path d="M255.79,213.56L261.29,213.56L258.54,208.06Z" fill="#0c86bb"/><path d="M271.08,213.83V219.50" stroke="#0c86bb" stroke-width="1.0" fill="none"/><path d="M269.78,213.83H272.38M269.78,219.50H272.38" stroke="#0c86bb" stroke-width="1.4" fill="none"/><path d="M268.33,219.42L273.83,219.42L271.08,213.92Z" fill="#0c86bb"/><path d="M283.62,221.60V227.98" stroke="#0c86bb" stroke-width="1.0" fill="none"/><path d="M282.32,221.60H284.92M282.32,227.98H284.92" stroke="#0c86bb" stroke-width="1.4" fill="none"/><path d="M280.87,227.54L286.37,227.54L283.62,222.04Z" fill="#0c86bb"/><path d="M296.16,225.78V232.16" stroke="#0c86bb" stroke-width="1.0" fill="none"/><path d="M294.86,225.78H297.46M294.86,232.16H297.46" stroke="#0c86bb" stroke-width="1.4" fill="none"/><path d="M293.41,231.72L298.91,231.72L296.16,226.22Z" fill="#0c86bb"/><path d="M308.70,236.70V245.21" stroke="#0c86bb" stroke-width="1.0" fill="none"/><path d="M307.40,236.70H310.00M307.40,245.21H310.00" stroke="#0c86bb" stroke-width="1.4" fill="none"/><path d="M305.95,243.70L311.45,243.70L308.70,238.20Z" fill="#0c86bb"/><path d="M321.24,233.83V242.34" stroke="#0c86bb" stroke-width="1.0" fill="none"/><path d="M319.94,233.83H322.54M319.94,242.34H322.54" stroke="#0c86bb" stroke-width="1.4" fill="none"/><path d="M318.49,240.84L323.99,240.84L321.24,235.34Z" fill="#0c86bb"/><path d="M333.78,243.94V253.52" stroke="#0c86bb" stroke-width="1.0" fill="none"/><path d="M332.48,243.94H335.08M332.48,253.52H335.08" stroke="#0c86bb" stroke-width="1.4" fill="none"/><path d="M331.03,251.48L336.53,251.48L333.78,245.98Z" fill="#0c86bb"/><path d="M346.32,249.22V259.86" stroke="#0c86bb" stroke-width="1.0" fill="none"/><path d="M345.02,249.22H347.62M345.02,259.86H347.62" stroke="#0c86bb" stroke-width="1.4" fill="none"/><path d="M343.57,257.29L349.07,257.29L346.32,251.79Z" fill="#0c86bb"/><path d="M358.86,250.96V262.31" stroke="#0c86bb" stroke-width="1.0" fill="none"/><path d="M357.56,250.96H360.16M357.56,262.31H360.16" stroke="#0c86bb" stroke-width="1.4" fill="none"/><path d="M356.11,259.38L361.61,259.38L358.86,253.88Z" fill="#0c86bb"/></g><g stroke="#000" fill="none" stroke-width="1.2"><path d="M45.5,17.5H371.2M45.5,317.5H371.2M45.5,16.9V478.3M371.2,16.9V478.3"/><path d="M44.9,477.7H371.8" stroke-width="1.6"/></g><text x="52" y="13.8" font-size="12" text-anchor="start" fill="#000" >13000 GeV pp</text><text x="297.0" y="13.8" font-size="12" text-anchor="start" fill="#000" >Z</text><text x="367.5" y="13.8" font-size="12" text-anchor="end" fill="#000" >(Drell-Yan)</text><text x="84.2" y="41.5" font-size="12">Transmax region, 0 &lt;</text><text x="200.9" y="41.5" font-size="12">p</text><text x="203.7" y="36.5" font-size="7.5">Z</text><text x="204.3" y="48.9" font-size="8">T</text><text x="212.8" y="41.5" font-size="12">&lt; 10 [GeV], high thrust</text><text x="40.5" y="52" font-size="12" text-anchor="end" fill="#000" >10</text><text x="40.3" y="124.3" font-size="12" text-anchor="end" fill="#000" >1</text><text x="32.9" y="196.9" font-size="10.8" text-anchor="end">10</text><text x="32.7" y="192" font-size="8">&#8722;<tspan dx="-1">1</tspan></text><text x="30.2" y="267.8" font-size="10.8" text-anchor="end">10</text><text x="30.8" y="263" font-size="8">&#8722;2</text><text x="38.8" y="341" font-size="12" text-anchor="end" fill="#000" >2</text><text x="38.8" y="401.8" font-size="12" text-anchor="end" fill="#000" >1</text><text x="38.8" y="462" font-size="12" text-anchor="end" fill="#000" >0.5</text><text x="373.6" y="341" font-size="12" text-anchor="start" fill="#000" >2</text><text x="373.6" y="401.8" font-size="12" text-anchor="start" fill="#000" >1</text><text x="373.8" y="462" font-size="12" text-anchor="start" fill="#000" >0.5</text><text x="120.6" y="489" font-size="12" text-anchor="middle" fill="#000" >1</text><text x="246" y="489" font-size="12" text-anchor="middle" fill="#000" >2</text><text x="371" y="489" font-size="12" text-anchor="middle" fill="#000" >3</text><text x="289.2" y="500.8" font-size="12">Mean</text><text x="323.5" y="500.8" font-size="12">p</text><text x="330" y="508.4" font-size="8.5">T</text><text x="334.1" y="500.8" font-size="12">/d&#951; d&#981;</text><text transform="translate(15.0,166.4) rotate(-90)" font-size="12"><tspan x="0">1/N</tspan><tspan x="18.0" y="3.4" font-size="8.5">ev</tspan><tspan x="29.1" y="0">dN</tspan><tspan x="44.8" y="3.4" font-size="8.5">ev</tspan><tspan x="51.2" y="0">/d</tspan><tspan x="66.3">mean</tspan><tspan x="99.7">p</tspan><tspan x="105.9" y="6.9" font-size="8.5">T</tspan><tspan x="113.6" y="0" letter-spacing="0.15">[GeV]</tspan><tspan x="145.9" y="-6.1" font-size="8.2">1</tspan></text><text transform="translate(19.3,426.5) rotate(-90)" font-size="9">Ratio to ATLAS</text><text transform="translate(380.2,127.6) rotate(-90)" font-size="9.5" fill="#888" textLength="110" lengthAdjust="spacingAndGlyphs">Rivet 4.1.0, &#8805; 3.7M events</text><text transform="translate(380.9,313.8) rotate(-90)" font-size="9.8" fill="#888" textLength="146.5" lengthAdjust="spacingAndGlyphs">mcplots.cern.ch [arXiv:2401.10621]</text><text x="163.6" y="303" font-size="7.8" text-anchor="start" fill="#999" >(ATLAS_2019_I1736531)</text><rect x="73.7" y="231.1" width="5.4" height="5.4" fill="#000"/><text x="94.4" y="236.8" font-size="9.3" text-anchor="start" fill="#000" >ATLAS</text><line x1="64.3" y1="246.90" x2="88.9" y2="246.90" stroke="#0202ec" stroke-width="1.0" stroke-opacity="0.8"/><path d="M74.00,249.30L79.20,249.30L76.60,244.10Z" fill="#0202ec"/><text x="94.4" y="249.5" font-size="9.3" text-anchor="start" fill="#000" >Pythia 8.315 default</text><line x1="64.3" y1="259.80" x2="88.9" y2="259.80" stroke="#8200c0" stroke-width="1.0" stroke-opacity="0.8"/><path d="M74.00,262.20L79.20,262.20L76.60,257.00Z" fill="#8200c0"/><text x="94.4" y="262.8" font-size="9.3" text-anchor="start" fill="#000" >Pythia 8.315 default-noFsr</text><line x1="64.3" y1="272.70" x2="88.9" y2="272.70" stroke="#0c86bb" stroke-width="1.0" stroke-opacity="0.8"/><path d="M74.00,275.10L79.20,275.10L76.60,269.90Z" fill="#0c86bb"/><text x="94.4" y="276.1" font-size="9.3" text-anchor="start" fill="#000" >Pythia 8.315 default-noRap</text></svg></body></html>
